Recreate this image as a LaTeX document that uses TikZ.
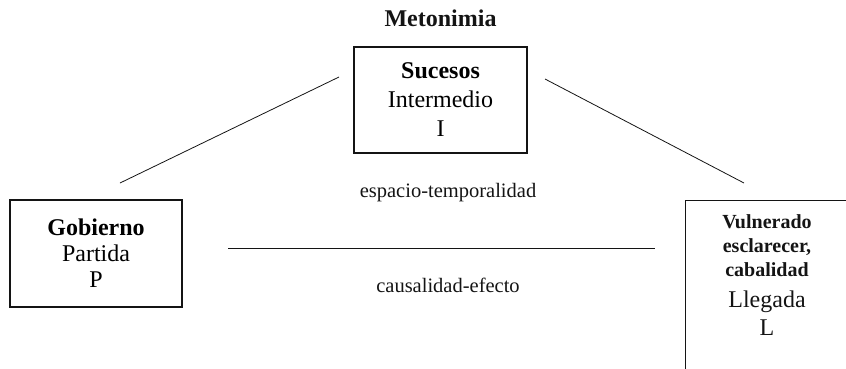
\documentclass[tikz,border=0pt]{standalone}
\usepackage{fontspec}
\setmainfont{Liberation Serif}
\usepackage{tikz}
\usetikzlibrary{positioning}
\definecolor{tinta}{RGB}{20,20,20}
\newcommand{\vul}[1]{{\fontsize{20}{24}\selectfont\bfseries #1}}

\begin{document}
\begin{tikzpicture}[x=1pt,y=-1pt,
    caja/.style={draw=tinta,line width=1.3pt,inner sep=0pt,align=center},
    linea/.style={draw=tinta,line width=0.8pt},
    rotulo/.style={text=tinta,font=\fontsize{20.5}{23}\selectfont}]
      \useasboundingbox (0,0) rectangle (846,368);
      \clip (0,0) rectangle (846,368);
      \node[text=tinta,font=\fontsize{24}{28}\selectfont\bfseries] (meto) at (440.5,18) {Metonimia};
      \node[caja,minimum width=173,minimum height=106,
            font=\fontsize{24}{29}\selectfont] (suc) at (440.5,100)
            {\textbf{Sucesos}\\Intermedio\\I};
      \node[caja,minimum width=172,minimum height=107,
            font=\fontsize{24}{26}\selectfont] (gob) at (96,253.5)
            {\textbf{Gobierno}\\Partida\\P};
      \node[caja,anchor=north west,minimum width=166,minimum height=200] (marco) at (685,200) {};
      \node[text=tinta,align=center,inner sep=0pt,
            font=\fontsize{24}{24}\selectfont] (vul) at (767,275.5)
            {\vul{Vulnerado}\\\vul{esclarecer,}\\\vul{cabalidad}\\[7pt]Llegada\\[4pt]L};
      \coordinate (a1) at (120,183);
      \coordinate (a2) at (339,77);
      \coordinate (b1) at (545,79);
      \coordinate (b2) at (744,183);
      \coordinate (c1) at (228,248);
      \coordinate (c2) at (655,248);
      \draw[linea] (a1) -- (a2);
      \draw[linea] (b1) -- (b2);
      \draw[linea] (c1) -- (c2);
      \node[rotulo] (esp) at (448,193) {espacio-temporalidad};
      \node[rotulo] (cau) at (448,285) {causalidad-efecto};
    \end{tikzpicture}
\end{document}
